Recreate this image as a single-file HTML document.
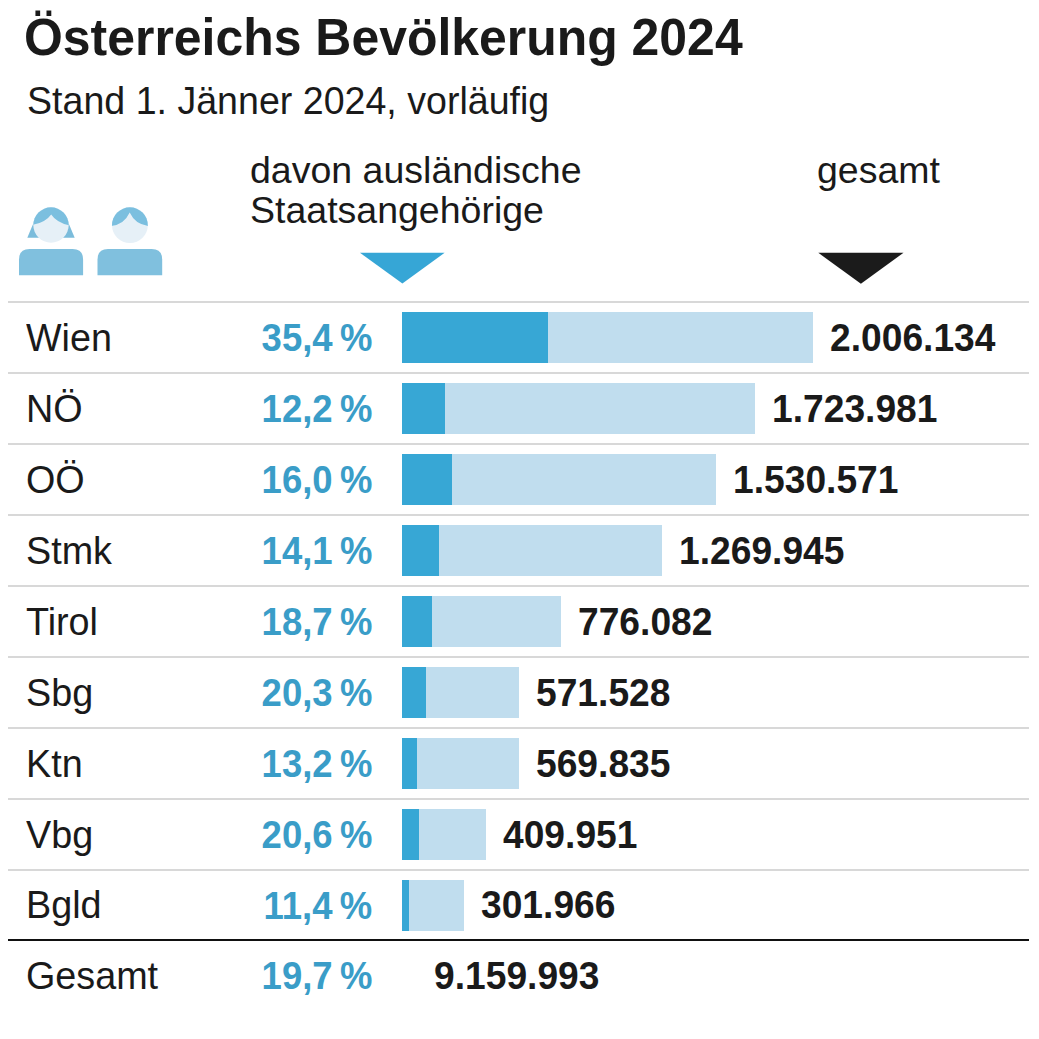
<!DOCTYPE html>
<html><head><meta charset="utf-8"><style>
html,body{margin:0;padding:0;background:#fff;}
body{width:1039px;height:1039px;position:relative;overflow:hidden;font-family:"Liberation Sans",sans-serif;}
.t{position:absolute;white-space:nowrap;}
.ln{position:absolute;left:8px;width:1021px;height:2px;background:#d8d8d8;}
.bar{position:absolute;background:#c0ddee;}
.dk{position:absolute;left:0;top:0;bottom:0;background:#37a7d5;}
</style></head><body>
<div class="t" style="left:24.20px;transform-origin:0 0;transform:scaleX(0.96);top:11.11px;font-size:52px;line-height:52px;font-weight:700;color:#1a1a1a;">Österreichs Bevölkerung 2024</div>
<div class="t" style="left:27.14px;transform-origin:0 0;transform:scaleX(0.976);top:81.53px;font-size:38.5px;line-height:38.5px;font-weight:400;color:#1a1a1a;">Stand 1. Jänner 2024, vorläufig</div>
<div class="t" style="left:249.92px;transform-origin:0 0;transform:scaleX(0.995);top:152.09px;font-size:37.7px;line-height:37.7px;font-weight:400;color:#1a1a1a;">davon ausländische</div>
<div class="t" style="left:249.80px;transform-origin:0 0;transform:scaleX(0.995);top:192.39px;font-size:37.7px;line-height:37.7px;font-weight:400;color:#1a1a1a;">Staatsangehörige</div>
<div class="t" style="left:817.42px;transform-origin:0 0;transform:scaleX(0.995);top:152.09px;font-size:37.7px;line-height:37.7px;font-weight:400;color:#1a1a1a;">gesamt</div>
<svg style="position:absolute;left:0;top:0" width="1039" height="300"><polygon points="360,252.8 444.6,252.8 402.4,283.6" fill="#36a6d6"/><polygon points="818.3,252.8 903.5,252.8 860.9,283.7" fill="#1b1b1b"/></svg>
<svg style="position:absolute;left:0;top:0" width="200" height="300">
<defs><clipPath id="h1"><circle cx="51" cy="225" r="17.7"/></clipPath><clipPath id="h2"><circle cx="129.9" cy="225.2" r="17.9"/></clipPath></defs>
<polygon points="27.3,237.8 33.3,223.5 40,237.8" fill="#7bbcdb"/><polygon points="62,237.8 68.7,223.5 74.7,237.8" fill="#7bbcdb"/>
<circle cx="51" cy="225" r="17.7" fill="#e6f0f7"/>
<path clip-path="url(#h1)" d="M32,225 Q45.5,222.5 51.2,214.4 Q56.5,222.5 70,225.5 L70,205 L32,205Z" fill="#7bbfdf"/>
<path d="M19,275.2 L19,259.5 Q19,249 29.5,249 L72.6,249 Q83.1,249 83.1,259.5 L83.1,275.2Z" fill="#80c0de"/>
<circle cx="129.9" cy="225.2" r="17.9" fill="#e6f0f7"/>
<path clip-path="url(#h2)" d="M111,226 Q124,225 129.7,212.6 Q135.5,225 149,226 L149,205 L111,205Z" fill="#7bbfdf"/>
<path d="M97.5,275.2 L97.5,259.5 Q97.5,249 108,249 L151.7,249 Q162.2,249 162.2,259.5 L162.2,275.2Z" fill="#80c0de"/>
</svg>
<div class="ln" style="top:301px"></div>
<div class="t" style="left:25.80px;transform-origin:0 0;transform:scaleX(0.98);top:318.93px;font-size:38.5px;line-height:38.5px;font-weight:400;color:#1a1a1a;">Wien</div>
<div class="t" style="right:667.04px;transform-origin:100% 0;transform:scaleX(0.96);top:319.34px;font-size:38px;line-height:38px;font-weight:700;color:#3a9dc8;">35,4&#8201;%</div>
<div class="bar" style="left:402px;top:312.0px;width:411.0px;height:51px"><div class="dk" style="width:145.5px"></div></div>
<div class="t" style="left:830.20px;transform-origin:0 0;transform:scaleX(0.966);top:318.93px;font-size:38.5px;line-height:38.5px;font-weight:700;color:#1a1a1a;">2.006.134</div>
<div class="ln" style="top:372px"></div>
<div class="t" style="left:25.80px;transform-origin:0 0;transform:scaleX(0.98);top:389.87px;font-size:38.5px;line-height:38.5px;font-weight:400;color:#1a1a1a;">NÖ</div>
<div class="t" style="right:667.04px;transform-origin:100% 0;transform:scaleX(0.96);top:390.28px;font-size:38px;line-height:38px;font-weight:700;color:#3a9dc8;">12,2&#8201;%</div>
<div class="bar" style="left:402px;top:382.9px;width:353.2px;height:51px"><div class="dk" style="width:43.1px"></div></div>
<div class="t" style="left:772.39px;transform-origin:0 0;transform:scaleX(0.966);top:389.87px;font-size:38.5px;line-height:38.5px;font-weight:700;color:#1a1a1a;">1.723.981</div>
<div class="ln" style="top:443px"></div>
<div class="t" style="left:25.80px;transform-origin:0 0;transform:scaleX(0.98);top:460.81px;font-size:38.5px;line-height:38.5px;font-weight:400;color:#1a1a1a;">OÖ</div>
<div class="t" style="right:667.04px;transform-origin:100% 0;transform:scaleX(0.96);top:461.22px;font-size:38px;line-height:38px;font-weight:700;color:#3a9dc8;">16,0&#8201;%</div>
<div class="bar" style="left:402px;top:453.9px;width:313.6px;height:51px"><div class="dk" style="width:50.2px"></div></div>
<div class="t" style="left:732.77px;transform-origin:0 0;transform:scaleX(0.966);top:460.81px;font-size:38.5px;line-height:38.5px;font-weight:700;color:#1a1a1a;">1.530.571</div>
<div class="ln" style="top:514px"></div>
<div class="t" style="left:25.80px;transform-origin:0 0;transform:scaleX(0.98);top:531.75px;font-size:38.5px;line-height:38.5px;font-weight:400;color:#1a1a1a;">Stmk</div>
<div class="t" style="right:667.04px;transform-origin:100% 0;transform:scaleX(0.96);top:532.16px;font-size:38px;line-height:38px;font-weight:700;color:#3a9dc8;">14,1&#8201;%</div>
<div class="bar" style="left:402px;top:524.8px;width:260.2px;height:51px"><div class="dk" style="width:36.7px"></div></div>
<div class="t" style="left:679.38px;transform-origin:0 0;transform:scaleX(0.966);top:531.75px;font-size:38.5px;line-height:38.5px;font-weight:700;color:#1a1a1a;">1.269.945</div>
<div class="ln" style="top:585px"></div>
<div class="t" style="left:25.80px;transform-origin:0 0;transform:scaleX(0.98);top:602.69px;font-size:38.5px;line-height:38.5px;font-weight:400;color:#1a1a1a;">Tirol</div>
<div class="t" style="right:667.04px;transform-origin:100% 0;transform:scaleX(0.96);top:603.10px;font-size:38px;line-height:38px;font-weight:700;color:#3a9dc8;">18,7&#8201;%</div>
<div class="bar" style="left:402px;top:595.8px;width:159.0px;height:51px"><div class="dk" style="width:29.7px"></div></div>
<div class="t" style="left:578.20px;transform-origin:0 0;transform:scaleX(0.966);top:602.69px;font-size:38.5px;line-height:38.5px;font-weight:700;color:#1a1a1a;">776.082</div>
<div class="ln" style="top:656px"></div>
<div class="t" style="left:25.80px;transform-origin:0 0;transform:scaleX(0.98);top:673.63px;font-size:38.5px;line-height:38.5px;font-weight:400;color:#1a1a1a;">Sbg</div>
<div class="t" style="right:667.04px;transform-origin:100% 0;transform:scaleX(0.96);top:674.04px;font-size:38px;line-height:38px;font-weight:700;color:#3a9dc8;">20,3&#8201;%</div>
<div class="bar" style="left:402px;top:666.7px;width:117.1px;height:51px"><div class="dk" style="width:23.8px"></div></div>
<div class="t" style="left:536.29px;transform-origin:0 0;transform:scaleX(0.966);top:673.63px;font-size:38.5px;line-height:38.5px;font-weight:700;color:#1a1a1a;">571.528</div>
<div class="ln" style="top:727px"></div>
<div class="t" style="left:25.80px;transform-origin:0 0;transform:scaleX(0.98);top:744.57px;font-size:38.5px;line-height:38.5px;font-weight:400;color:#1a1a1a;">Ktn</div>
<div class="t" style="right:667.04px;transform-origin:100% 0;transform:scaleX(0.96);top:744.98px;font-size:38px;line-height:38px;font-weight:700;color:#3a9dc8;">13,2&#8201;%</div>
<div class="bar" style="left:402px;top:737.6px;width:116.7px;height:51px"><div class="dk" style="width:15.4px"></div></div>
<div class="t" style="left:535.94px;transform-origin:0 0;transform:scaleX(0.966);top:744.57px;font-size:38.5px;line-height:38.5px;font-weight:700;color:#1a1a1a;">569.835</div>
<div class="ln" style="top:798px"></div>
<div class="t" style="left:25.80px;transform-origin:0 0;transform:scaleX(0.98);top:815.51px;font-size:38.5px;line-height:38.5px;font-weight:400;color:#1a1a1a;">Vbg</div>
<div class="t" style="right:667.04px;transform-origin:100% 0;transform:scaleX(0.96);top:815.92px;font-size:38px;line-height:38px;font-weight:700;color:#3a9dc8;">20,6&#8201;%</div>
<div class="bar" style="left:402px;top:808.6px;width:84.0px;height:51px"><div class="dk" style="width:17.3px"></div></div>
<div class="t" style="left:503.19px;transform-origin:0 0;transform:scaleX(0.966);top:815.51px;font-size:38.5px;line-height:38.5px;font-weight:700;color:#1a1a1a;">409.951</div>
<div class="ln" style="top:869px"></div>
<div class="t" style="left:25.80px;transform-origin:0 0;transform:scaleX(0.98);top:886.45px;font-size:38.5px;line-height:38.5px;font-weight:400;color:#1a1a1a;">Bgld</div>
<div class="t" style="right:667.04px;transform-origin:100% 0;transform:scaleX(0.96);top:886.86px;font-size:38px;line-height:38px;font-weight:700;color:#3a9dc8;">11,4&#8201;%</div>
<div class="bar" style="left:402px;top:879.5px;width:61.9px;height:51px"><div class="dk" style="width:7.1px"></div></div>
<div class="t" style="left:481.06px;transform-origin:0 0;transform:scaleX(0.966);top:886.45px;font-size:38.5px;line-height:38.5px;font-weight:700;color:#1a1a1a;">301.966</div>
<div class="ln" style="top:939px;background:#111"></div>
<div class="t" style="left:25.80px;transform-origin:0 0;transform:scaleX(0.98);top:956.53px;font-size:38.5px;line-height:38.5px;font-weight:400;color:#1a1a1a;">Gesamt</div>
<div class="t" style="right:667.04px;transform-origin:100% 0;transform:scaleX(0.96);top:956.94px;font-size:38px;line-height:38px;font-weight:700;color:#3a9dc8;">19,7&#8201;%</div>
<div class="t" style="left:434.11px;transform-origin:0 0;transform:scaleX(0.966);top:956.53px;font-size:38.5px;line-height:38.5px;font-weight:700;color:#1a1a1a;">9.159.993</div>
</body></html>
